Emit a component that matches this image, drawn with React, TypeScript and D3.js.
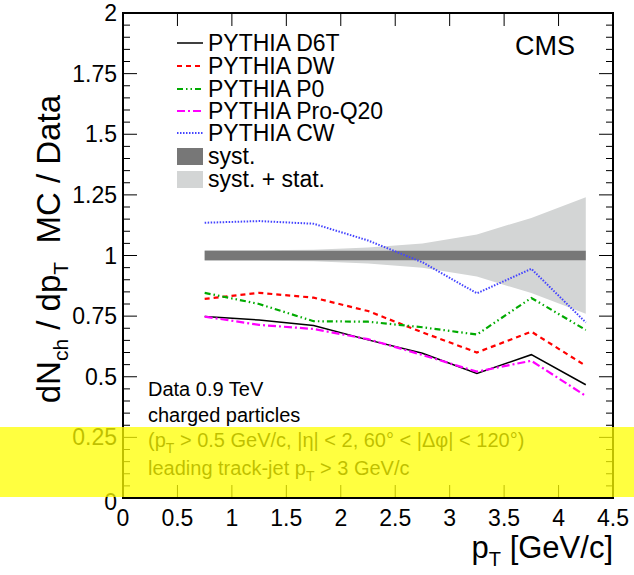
import React from "react";
import * as d3 from "d3";

const xCenters = [0.75, 1.25, 1.75, 2.25, 2.75, 3.25, 3.75, 4.25];
const d6t = [0.748, 0.734, 0.711, 0.652, 0.597, 0.514, 0.591, 0.467];
const dw = [0.821, 0.846, 0.826, 0.771, 0.683, 0.6, 0.686, 0.545];
const p0 = [0.846, 0.8, 0.729, 0.727, 0.704, 0.674, 0.825, 0.693];
const proq20 = [0.748, 0.714, 0.697, 0.655, 0.59, 0.521, 0.566, 0.421];
const cw = [1.135, 1.142, 1.131, 1.062, 0.972, 0.844, 0.945, 0.724];
const systErr = [0.02, 0.02, 0.02, 0.02, 0.02, 0.02, 0.02, 0.02];
const totErr = [0.022, 0.022, 0.024, 0.033, 0.05, 0.087, 0.155, 0.24];

const xTicks = [0, 0.5, 1, 1.5, 2, 2.5, 3, 3.5, 4, 4.5];
const xTickLabels = ["0", "0.5", "1", "1.5", "2", "2.5", "3", "3.5", "4", "4.5"];
const yTicks = [0, 0.25, 0.5, 0.75, 1, 1.25, 1.5, 1.75, 2];
const yTickLabels = ["0", "0.25", "0.5", "0.75", "1", "1.25", "1.5", "1.75", "2"];

const seriesNames = ["PYTHIA D6T", "PYTHIA DW", "PYTHIA P0", "PYTHIA Pro-Q20", "PYTHIA CW"];
const seriesValues = [d6t, dw, p0, proq20, cw];
const seriesColors = ["#000000", "#ff0000", "#00aa00", "#ff00ff", "#4444ff"];
const seriesDash = ["", "5,4", "6,3,1.5,3,1.5,3", "8,3,2,3", "1.5,1.5"];
const seriesWidth = [1.5, 2.2, 2.2, 2.2, 2];

const FONT = "'Liberation Sans', Arial, Helvetica, sans-serif";

export default function App() {
  const L = 123, R = 613, T = 13, B = 498;
  const x = d3.scaleLinear().domain([0, 4.5]).range([L, R]);
  const y = d3.scaleLinear().domain([0, 2]).range([B, T]);

  const line = d3
    .line<number>()
    .x((_, i) => x(xCenters[i]))
    .y((d) => y(d));

  const band = (err: number[]) =>
    d3
      .area<number>()
      .x((_, i) => x(xCenters[i]))
      .y0((_, i) => y(1 - err[i]))
      .y1((_, i) => y(1 + err[i]))(err) || "";

  const yMinor = d3.range(0, 2.0001, 0.05);

  const legendY = [43, 66, 89, 111, 133];

  return (
    <svg
      width={634}
      height={575}
      style={{ position: "absolute", left: 0, top: 0, background: "#fff" }}
      fontFamily={FONT}
    >
      <rect x={0} y={0} width={634} height={575} fill="#fff" />
      {/* bands */}
      <path d={band(totErr)} fill="#d3d5d5" />
      <path d={band(systErr)} fill="#777777" />
      {/* series */}
      {seriesValues.map((vals, k) => (
        <path
          key={k}
          d={line(vals) || ""}
          fill="none"
          stroke={seriesColors[k]}
          strokeWidth={seriesWidth[k]}
          strokeDasharray={seriesDash[k] || undefined}
        />
      ))}
      {/* ticks */}
      {yMinor.map((v, i) => {
        const major = Math.abs(v / 0.25 - Math.round(v / 0.25)) < 1e-6;
        const len = major ? 14 : 7;
        return (
          <g key={"yt" + i} stroke="#000" strokeWidth={1}>
            <line x1={L} x2={L + len} y1={y(v)} y2={y(v)} />
            <line x1={R} x2={R - len} y1={y(v)} y2={y(v)} />
          </g>
        );
      })}
      {xTicks.map((v, i) => (
        <g key={"xt" + i} stroke="#000" strokeWidth={1}>
          <line x1={x(v)} x2={x(v)} y1={B} y2={B - 13} />
          <line x1={x(v)} x2={x(v)} y1={T} y2={T + 13} />
        </g>
      ))}
      {/* frame */}
      <rect x={L} y={T} width={R - L} height={B - T} fill="none" stroke="#000" strokeWidth={2} />
      {/* tick labels */}
      {yTicks.map((v, i) => (
        <text key={"yl" + i} x={L - 6} y={y(v) + 8 + (i === 0 ? 4 : 0)} fontSize={23} textAnchor="end">
          {yTickLabels[i]}
        </text>
      ))}
      {xTicks.map((v, i) => (
        <text key={"xl" + i} x={x(v)} y={B + 28} fontSize={23} textAnchor="middle">
          {xTickLabels[i]}
        </text>
      ))}
      {/* axis titles */}
      <text x={R} y={558} fontSize={31} textAnchor="end">
        p<tspan dy={8} fontSize={20}>T</tspan>
        <tspan dy={-8}> [GeV/c]</tspan>
      </text>
      <text transform="translate(60,95) rotate(-90)" fontSize={33} textAnchor="end">
        dN<tspan dy={8} fontSize={21}>ch</tspan>
        <tspan dy={-8}> / dp</tspan>
        <tspan dy={8} fontSize={21}>T</tspan>
        <tspan dy={-8}>{"\u00a0\u00a0MC / Data"}</tspan>
      </text>
      {/* legend */}
      {seriesNames.map((n, k) => (
        <g key={"lg" + k}>
          <line
            x1={177}
            x2={203}
            y1={legendY[k]}
            y2={legendY[k]}
            stroke={seriesColors[k]}
            strokeWidth={seriesWidth[k]}
            strokeDasharray={seriesDash[k] || undefined}
          />
          <text x={208} y={legendY[k] + 8} fontSize={23}>
            {n}
          </text>
        </g>
      ))}
      <rect x={177} y={148} width={26} height={17} fill="#777777" />
      <text x={208} y={164} fontSize={23}>syst.</text>
      <rect x={177} y={171} width={26} height={17} fill="#d3d5d5" />
      <text x={208} y={187} fontSize={23}>syst. + stat.</text>
      <text x={515} y={55} fontSize={27}>CMS</text>
      {/* info text */}
      <g fontSize={20}>
        <text x={148} y={396}>Data 0.9 TeV</text>
        <text x={148} y={422}>charged particles</text>
        <text x={148} y={447}>
          (p<tspan dy={6} fontSize={14}>T</tspan>
          <tspan dy={-6}>{" > 0.5 GeV/c, |\u03b7| < 2, 60\u00b0 < |\u0394\u03c6| < 120\u00b0)"}</tspan>
        </text>
        <text x={148} y={475}>
          leading track-jet p<tspan dy={6} fontSize={14}>T</tspan>
          <tspan dy={-6}>{" > 3 GeV/c"}</tspan>
        </text>
      </g>
      {/* yellow highlight */}
      <rect x={0} y={427} width={634} height={70} fill="#ffff00" opacity={0.75} />
    </svg>
  );
}
